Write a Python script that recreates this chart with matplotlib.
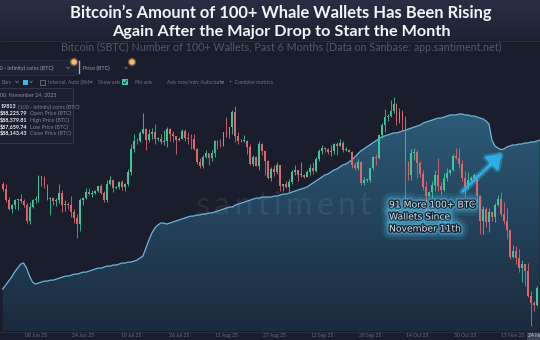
import numpy as np
import matplotlib
matplotlib.use("Agg")
import matplotlib.pyplot as plt
import matplotlib.dates as mdates
import matplotlib.patheffects as pe
import matplotlib.transforms as mtransforms
from matplotlib.colors import LinearSegmentedColormap
from matplotlib.patches import Rectangle, FancyArrowPatch, Circle

# ---------------- data ----------------
first_day = "2025-05-28"
first_open_k = 108.9          # BTC open of the first candle, thousand USD

# daily BTC closes, thousand USD (May 28 .. Nov 24, 2025)
close_may = [107.8, 105.6, 103.9, 104.6]
close_jun = [105.7, 105.9, 105.4, 104.7, 101.6, 104.3, 105.6, 105.8, 110.3, 110.3,
             108.7, 105.9, 106.1, 105.4, 105.6, 107.0, 104.6, 104.9, 104.7, 103.3,
             102.2, 100.9, 105.6, 106.0, 107.3, 106.9, 107.1, 107.4, 108.4, 107.1]
close_jul = [105.7, 108.9, 109.6, 108.0, 108.2, 109.2, 108.3, 108.9, 111.3, 115.9,
             117.5, 117.4, 119.1, 119.8, 117.7, 118.8, 119.3, 117.9, 117.9, 117.3,
             117.4, 119.9, 118.8, 118.4, 117.6, 117.9, 119.4, 118.0, 117.9, 117.8, 115.8]
close_aug = [113.3, 112.5, 114.2, 115.0, 114.1, 115.0, 117.5, 116.7, 116.5, 119.3,
             118.7, 120.2, 123.3, 118.4, 117.4, 117.5, 117.5, 116.3, 112.9, 114.3,
             112.5, 116.9, 115.4, 113.5, 110.1, 111.8, 111.3, 112.6, 108.4, 108.8, 108.2]
close_sep = [109.2, 111.2, 111.7, 110.7, 110.7, 110.2, 111.2, 112.1, 111.5, 113.9,
             115.5, 116.1, 115.9, 115.3, 115.4, 116.8, 116.5, 117.1, 115.7, 115.7,
             115.3, 112.7, 112.0, 113.3, 109.0, 109.7, 109.7, 112.1, 114.3, 114.1]
close_oct = [118.6, 120.6, 122.3, 122.4, 123.5, 124.8, 121.4, 123.3, 121.7, 113.2,
             110.7, 115.0, 115.3, 113.0, 110.8, 108.2, 106.5, 107.2, 108.6, 110.6,
             108.5, 107.6, 110.1, 111.0, 111.6, 114.5, 114.1, 112.9, 110.0, 108.3, 109.6]
close_nov = [110.1, 110.6, 106.5, 101.6, 103.9, 101.3, 103.4, 102.3, 104.7, 105.9,
             103.0, 101.6, 99.7, 94.4, 95.6, 94.2, 92.2, 92.9, 91.5, 86.6,
             85.1, 84.7, 88.22579, 88.14343]

high_may = [109.3, 108.9, 106.3, 104.9]
high_jun = [105.9, 105.9, 106.8, 105.9, 105.0, 105.3, 105.9, 106.4, 110.6, 110.4,
            110.4, 108.9, 106.2, 106.2, 106.1, 108.9, 107.7, 105.6, 105.2, 106.5,
            103.9, 103.0, 106.0, 106.3, 108.1, 108.0, 107.7, 107.6, 108.5, 108.8]
high_jul = [107.5, 109.7, 110.5, 109.7, 108.4, 109.4, 109.7, 109.1, 111.9, 116.8,
            118.9, 118.0, 119.4, 123.1, 120.0, 119.8, 120.0, 120.9, 118.2, 118.9,
            119.7, 120.2, 120.0, 119.5, 118.5, 118.3, 119.8, 119.8, 119.2, 118.8, 118.9]
high_aug = [116.0, 114.0, 114.7, 115.7, 115.1, 115.6, 117.7, 117.7, 117.9, 119.3,
            122.3, 120.3, 123.7, 124.5, 119.2, 117.9, 118.6, 117.6, 116.8, 114.6,
            114.5, 117.4, 117.0, 115.7, 113.6, 112.3, 112.6, 113.3, 112.7, 108.9, 109.5]
high_sep = [109.9, 111.7, 112.6, 111.7, 113.3, 110.9, 111.6, 112.9, 113.2, 114.3,
            115.9, 116.7, 116.3, 116.1, 116.7, 117.0, 117.2, 117.9, 117.4, 116.2,
            115.9, 115.4, 113.3, 113.9, 113.4, 110.3, 109.8, 112.3, 114.5, 114.8]
high_oct = [118.7, 121.0, 123.9, 122.9, 125.7, 126.2, 125.1, 124.1, 123.7, 122.5,
            113.4, 115.8, 116.0, 115.6, 113.5, 111.7, 109.4, 107.4, 109.4, 111.7,
            114.0, 109.3, 111.1, 112.0, 111.9, 114.9, 116.0, 116.0, 113.6, 111.5, 111.2]
high_nov = [110.5, 111.1, 110.7, 106.6, 104.5, 104.2, 104.0, 103.4, 105.0, 106.6,
            107.3, 105.3, 104.0, 99.8, 96.8, 96.6, 96.0, 93.8, 92.9, 93.1,
            87.5, 85.6, 88.5, 88.37981]

low_may = [107.4, 105.3, 103.7, 103.1]
low_jun = [103.9, 103.7, 105.0, 104.2, 101.1, 101.0, 104.0, 105.1, 105.3, 108.4,
           108.1, 105.7, 102.8, 104.6, 104.5, 105.0, 103.4, 103.6, 103.9, 102.4,
           101.2, 98.2, 99.6, 104.7, 105.9, 106.6, 106.2, 106.9, 107.2, 106.8]
low_jul = [105.3, 105.2, 108.6, 107.3, 107.8, 107.8, 107.6, 107.5, 108.4, 110.6,
           115.3, 116.9, 117.3, 118.9, 115.7, 117.3, 117.8, 116.9, 117.4, 116.8,
           116.6, 116.2, 117.5, 117.3, 114.8, 117.4, 117.9, 117.5, 116.9, 115.8, 115.6]
low_aug = [112.8, 112.0, 112.1, 114.1, 112.7, 113.4, 114.3, 115.9, 116.3, 116.5,
           118.2, 118.1, 118.9, 117.2, 116.8, 117.2, 117.3, 114.8, 112.7, 112.4,
           112.4, 111.7, 114.7, 110.7, 109.8, 109.4, 110.4, 110.9, 107.5, 107.5, 108.1]
low_sep = [107.3, 108.8, 110.7, 109.4, 110.2, 110.0, 110.2, 110.7, 110.8, 111.2,
           113.5, 114.8, 115.3, 114.9, 114.4, 114.8, 114.7, 116.4, 115.3, 115.5,
           115.2, 112.0, 111.6, 111.6, 108.6, 108.7, 109.2, 109.2, 111.6, 112.7]
low_oct = [113.9, 118.0, 119.3, 121.5, 122.2, 123.1, 120.6, 121.0, 119.7, 104.6,
           109.6, 109.7, 113.6, 110.0, 110.2, 107.6, 103.6, 106.3, 106.1, 107.4,
           107.4, 106.7, 107.4, 109.4, 110.6, 111.4, 113.9, 112.1, 109.5, 106.3, 107.9]
low_nov = [109.5, 109.6, 105.3, 99.0, 98.9, 100.3, 99.3, 101.5, 101.4, 104.5,
           102.6, 100.9, 98.0, 94.0, 94.1, 93.0, 91.3, 89.3, 88.6, 86.3,
           80.6, 83.5, 84.6, 87.65974]

# number of wallets holding 100+ BTC, daily
wallets_may = [18398, 18436, 18474, 18512]
wallets_jun = [18559, 18597, 18635, 18645, 18597, 18521, 18464, 18445, 18455, 18464,
               18474, 18474, 18483, 18483, 18493, 18502, 18512, 18521, 18521, 18531,
               18540, 18540, 18550, 18559, 18559, 18569, 18578, 18588, 18597, 18597]
wallets_jul = [18607, 18616, 18616, 18626, 18626, 18635, 18645, 18645, 18654, 18654,
               18664, 18673, 18692, 18711, 18787, 18863, 18930, 18977, 19006, 19025,
               19025, 19015, 19025, 19034, 19044, 19053, 19063, 19072, 19082, 19091, 19091]
wallets_aug = [19101, 19101, 19110, 19110, 19120, 19120, 19129, 19139, 19148, 19158,
               19167, 19177, 19177, 19196, 19205, 19215, 19224, 19234, 19243, 19253,
               19262, 19262, 19272, 19272, 19272, 19272, 19281, 19281, 19291, 19300, 19300]
wallets_sep = [19310, 19319, 19329, 19338, 19348, 19357, 19367, 19386, 19405, 19424,
               19443, 19462, 19481, 19490, 19509, 19528, 19538, 19557, 19576, 19585,
               19604, 19623, 19652, 19680, 19709, 19728, 19747, 19766, 19785, 19804]
wallets_oct = [19823, 19842, 19851, 19861, 19870, 19880, 19880, 19889, 19899, 19908,
               19918, 19927, 19937, 19946, 19956, 19975, 19984, 19994, 20003, 20013,
               20022, 20022, 20032, 20041, 20051, 20051, 20051, 20060, 20060, 20051, 20051]
wallets_nov = [20041, 20041, 20032, 20022, 20013, 19994, 19965, 19813, 19756, 19737,
               19722, 19728, 19747, 19756, 19766, 19766, 19775, 19775, 19785, 19785,
               19794, 19794, 19804, 19813]

tick_dates = ["2025-05-23", "2025-06-08", "2025-06-24", "2025-07-10", "2025-07-26",
              "2025-08-11", "2025-08-27", "2025-09-12", "2025-09-28", "2025-10-14",
              "2025-10-30", "2025-11-15"]
tick_labels = ["23 May 25", "08 Jun 25", "24 Jun 25", "10 Jul 25", "26 Jul 25",
               "11 Aug 25", "27 Aug 25", "12 Sep 25", "28 Sep 25", "14 Oct 25",
               "30 Oct 25", "15 Nov 25"]
hover_date = "2025-11-24"
hover_label = "24 Nov 25"

title_lines = ["Bitcoin\u2019s Amount of 100+ Whale Wallets Has Been Rising",
               "Again After the Major Drop to Start the Month"]
subtitle = "Bitcoin (SBTC) Number of 100+ Wallets, Past 6 Months (Data on Sanbase: app.santiment.net)"
note_lines = ["91 More 100+ BTC", "Wallets Since", "November 11th"]

tooltip_header = "00, November 24, 2025"
tooltip_rows = [("19813", "(100 - infinity) coins (BTC)"),
                ("$88,225.79", "Open Price (BTC)"),
                ("$88,379.81", "High Price (BTC)"),
                ("$87,659.74", "Low Price (BTC)"),
                ("$88,143.43", "Close Price (BTC)")]

# ---------------- assemble series ----------------
close_k = np.array(close_may + close_jun + close_jul + close_aug + close_sep + close_oct + close_nov)
high_k = np.array(high_may + high_jun + high_jul + high_aug + high_sep + high_oct + high_nov)
low_k = np.array(low_may + low_jun + low_jul + low_aug + low_sep + low_oct + low_nov)
wallets = np.array(wallets_may + wallets_jun + wallets_jul + wallets_aug + wallets_sep
                   + wallets_oct + wallets_nov, dtype=float)
open_k = np.r_[first_open_k, close_k[:-1]]

dates = np.datetime64(first_day) + np.arange(len(close_k))
xd = mdates.date2num(dates)

# ---------------- styling ----------------
W, H = 540, 340
BG = "#1a1d2b"
GREEN = "#3fc59b"
RED = "#e0646e"
LINE = "#6db5da"
plt.rcParams["font.family"] = ["Lato", "DejaVu Sans"]

fig = plt.figure(figsize=(W / 100, H / 100), dpi=100)
fig.patch.set_facecolor(BG)
renderer = fig.canvas.get_renderer()


def fit_width(txt, target):
    w = txt.get_window_extent(renderer).width
    txt.set_fontsize(txt.get_fontsize() * target / w)


# background layer, pixel coordinates with origin at top-left
bg = fig.add_axes([0, 0, 1, 1], zorder=0)
band = LinearSegmentedColormap.from_list("band", ["#2a2e44", "#1f2234"])
bg.imshow(np.linspace(0, 1, 64).reshape(-1, 1), extent=[0, W, 40, 0],
          cmap=band, aspect="auto", origin="upper")
bg.plot([0, W], [40.5, 40.5], color="#2b2f42", lw=0.6)
bg.set_xlim(0, W)
bg.set_ylim(H, 0)
bg.axis("off")

# chart axes: wallets area underneath, price candles on top
rect = [0, (H - 331) / H, 1, (331 - 88) / H]
ax_w = fig.add_axes(rect, zorder=1)
ax_p = fig.add_axes(rect, zorder=2)
x_lo = mdates.date2num(np.datetime64("2025-05-27T02:24"))
x_hi = mdates.date2num(np.datetime64("2025-11-24T02:24"))
W_LO, W_HI = 18000, 20307

area_cmap = LinearSegmentedColormap.from_list("area", ["#1b2a3d", "#2c5a77"])
fb = ax_w.fill_between(xd, wallets, W_LO, color="none", lw=0)
img = ax_w.imshow(np.linspace(0, 1, 256).reshape(-1, 1),
                  extent=[xd[0] - 1, xd[-1] + 1, W_LO, wallets.max()],
                  origin="lower", aspect="auto", cmap=area_cmap, zorder=1)
img.set_clip_path(fb.get_paths()[0], transform=ax_w.transData)
ax_w.plot(xd, wallets, color=LINE, lw=0.9, zorder=3)
ax_w.set_xlim(x_lo, x_hi)
ax_w.set_ylim(W_LO, W_HI)

up = close_k >= open_k
colors = np.where(up, GREEN, RED)
ax_p.vlines(xd, low_k, high_k, colors=colors, lw=0.6, zorder=3)
body_lo = np.minimum(open_k, close_k)
body_h = np.maximum(np.abs(close_k - open_k), 0.12)
ax_p.bar(xd, body_h, bottom=body_lo, width=0.62, color=colors, lw=0, zorder=4)
ax_p.set_xlim(x_lo, x_hi)
ax_p.set_ylim(79.6, 128.0)

for a in (ax_w, ax_p):
    a.set_facecolor("none")
    a.axis("off")

# overlay layer in pixel coordinates
ov = fig.add_axes([0, 0, 1, 1], zorder=5)
ov.set_xlim(0, W)
ov.set_ylim(H, 0)
ov.axis("off")
ov.set_facecolor("none")

# watermark with a little letter tracking
wm = "santiment"
xpos = 196.0
for ch in wm:
    tw = ax_w.text(xpos, 206, ch, transform=bg.transData, ha="left", va="center",
                   fontsize=23, color="white", alpha=0.07, zorder=2)
    xpos += tw.get_window_extent(renderer).width + 4.5

# titles
t1 = ov.text(281, 18, title_lines[0], ha="center", va="baseline", color="#f3f4f8",
             fontsize=12, weight="bold")
fit_width(t1, 422)
t2 = ov.text(281, 36, title_lines[1], ha="center", va="baseline", color="#f3f4f8",
             fontsize=12, weight="bold")
fit_width(t2, 338)
t3 = ov.text(281, 51, subtitle, ha="center", va="baseline", color="#50556a", fontsize=7)
fit_width(t3, 438)

# toolbar of the charting app
UI = "#9a9fb0"
UI_DIM = "#6c7185"
ov.add_patch(Rectangle((-2, 60), 78, 15, facecolor="#1e2233", edgecolor="#2b2f43", lw=0.6))
ov.text(-7.5, 68, "(100 - infinity) coins (BTC)", fontsize=3.9, color=UI, va="center")
ov.plot([79, 79], [61, 73], color="#a9aebd", lw=1.0)
ov.text(83, 68, "Price (BTC)", fontsize=3.9, color=UI, va="center")


def caret(xc, yc, s=1.3):
    ov.plot([xc - s, xc, xc + s], [yc - s * 0.6, yc + s * 0.6, yc - s * 0.6],
            color=UI_DIM, lw=0.6)


for cx, cy in [(68, 68), (126, 68), (17, 82), (31, 82), (91, 82), (222, 82)]:
    caret(cx, cy)
for cx in (74, 132):
    ov.add_patch(Circle((cx, 62), 4.2, color="#f7b768", alpha=0.35, lw=0))
    ov.add_patch(Circle((cx, 62), 2.8, color="#f8bb6c", lw=0))

ov.text(2, 82, "Bars", fontsize=3.7, color=UI_DIM, va="center")
ov.add_patch(Rectangle((22.5, 79.5), 5, 5, facecolor="#36b9ec", edgecolor="none"))
ov.add_patch(Rectangle((39.5, 79.5), 5, 5, facecolor="none", edgecolor=UI_DIM, lw=0.6))
ov.text(48, 82, "Interval: Auto (8h)", fontsize=3.7, color=UI_DIM, va="center")
ov.text(98, 82, "Show axis", fontsize=3.7, color=UI_DIM, va="center")
ov.add_patch(Rectangle((122, 79), 6, 6, facecolor="#3ccfb0", edgecolor="none"))
ov.plot([123.3, 124.7, 126.8], [82, 83.6, 80.3], color="#1a1d2b", lw=0.6)
ov.text(135, 82, "Pin axis", fontsize=3.7, color=UI_DIM, va="center")
ov.text(167, 82, "Axis max/min: Auto/auto", fontsize=3.7, color=UI_DIM, va="center")
ov.text(229, 82, "+  Combine metrics", fontsize=3.7, color=UI_DIM, va="center")

# hover tooltip
ov.add_patch(Rectangle((-2, 88), 75, 55, facecolor="#1c1f2f", edgecolor="#30354a", lw=0.8))
ov.plot([-2, 73], [100.5, 100.5], color="#2c3144", lw=0.6)
ov.text(0.5, 95, tooltip_header, fontsize=3.9, color="#8b90a3", va="center")
for (val, lab), yy in zip(tooltip_rows, [107, 113.7, 120.4, 127, 133.7]):
    tv = ov.text(0.3, yy, val, fontsize=3.9, color="#eef0f5", weight="bold", va="center")
    ov.annotate(lab, xy=(1, 0.5), xycoords=tv, xytext=(1.6, 0), textcoords="offset points",
                fontsize=3.9, color="#7c8196", va="center")

# annotation with glow
glow = [pe.Stroke(linewidth=12, foreground="#3cc8f5", alpha=0.10),
        pe.Stroke(linewidth=8, foreground="#4fd2ff", alpha=0.15),
        pe.Stroke(linewidth=4.5, foreground="#7fe0ff", alpha=0.28),
        pe.Stroke(linewidth=1.8, foreground="#132130"),
        pe.Normal()]
first = None
for i, line in enumerate(note_lines):
    tn = ov.text(389, 205 + i * 12, line, fontsize=7.3, color="#dbe6ef", va="center",
                 family=["DejaVu Sans"], path_effects=glow)
    if first is None:
        fit_width(tn, 86)
        first = tn.get_fontsize()
    else:
        tn.set_fontsize(first)

arrow = FancyArrowPatch((460.7, 193.3), (503.5, 152.0), arrowstyle="-|>,head_length=3.6,head_width=2.6",
                        mutation_scale=2.2, color="#29aee6", lw=2.0, transform=ov.transData,
                        path_effects=[pe.Stroke(linewidth=5, foreground="#4fd2ff", alpha=0.25),
                                      pe.Normal()])
ov.add_patch(arrow)

# date axis
blend = mtransforms.blended_transform_factory(ax_p.transData, ov.transData)
ov.plot([0, W], [331.5, 331.5], color="#2a2e40", lw=0.7)
for d, lab in zip(tick_dates, tick_labels):
    ov.text(mdates.date2num(np.datetime64(d)), 335.8, lab, transform=blend, ha="center",
            va="center", fontsize=3.6, color="#676c80", clip_on=False)
xh = mdates.date2num(np.datetime64(hover_date))
ov.add_patch(Rectangle((xh - 4.2, 332), 8.4, 8, transform=blend, facecolor="#3a4056",
                       edgecolor="none", clip_on=False))
ov.text(xh, 335.8, hover_label, transform=blend, ha="center", va="center", fontsize=3.6,
        color="#d5d8e2", clip_on=False)

fig.savefig("out.png", dpi=100, facecolor=fig.get_facecolor())
